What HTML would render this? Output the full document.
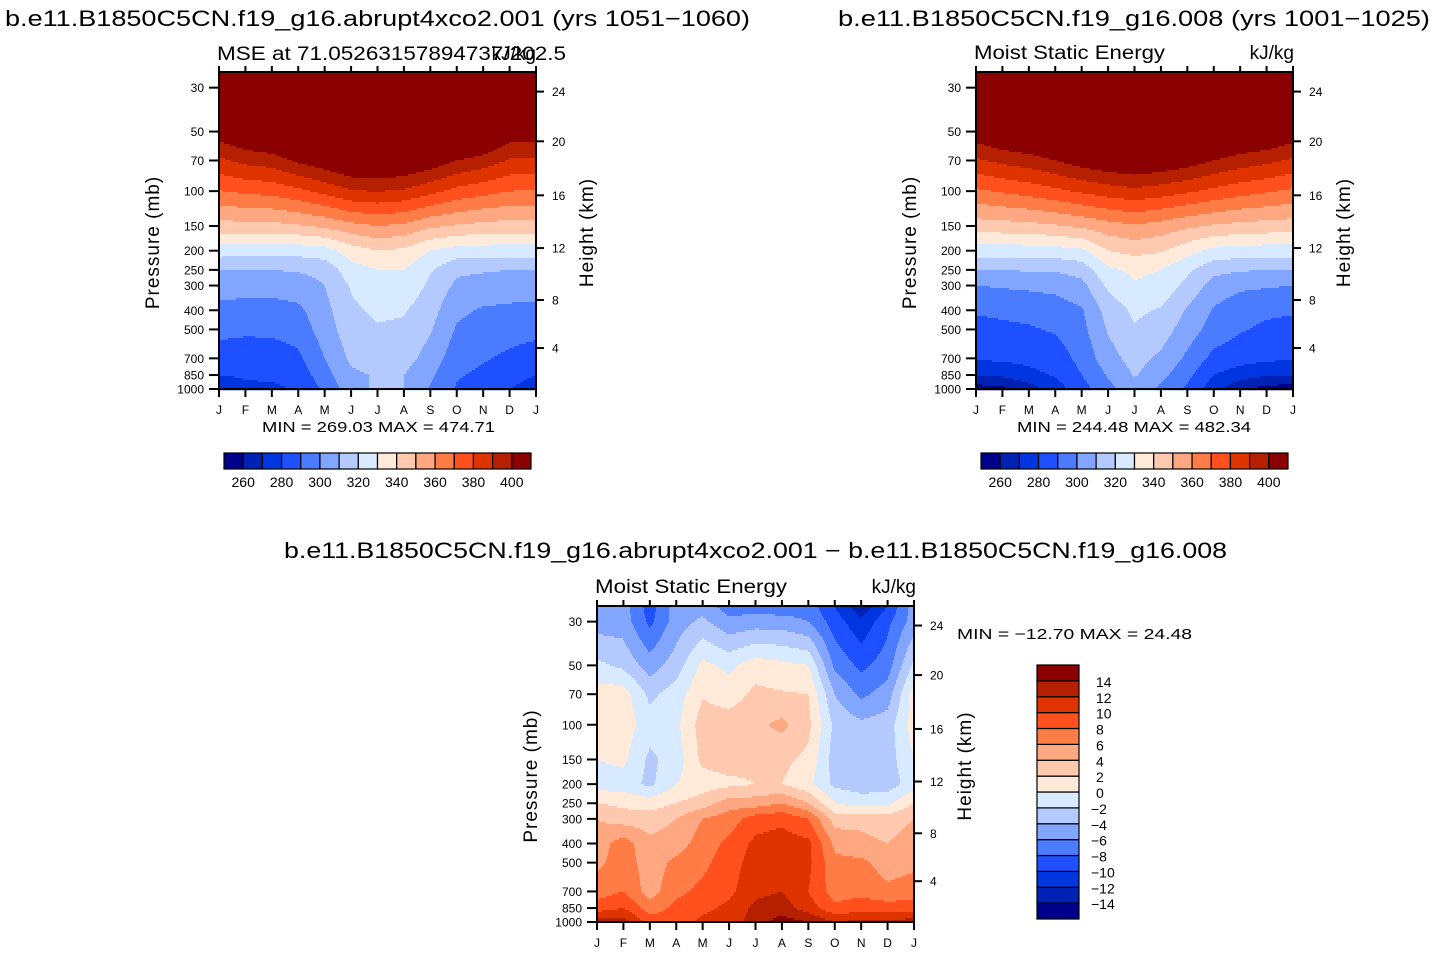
<!DOCTYPE html>
<html><head><meta charset="utf-8">
<style>
html,body{margin:0;padding:0;background:#fff;}
svg{display:block;font-family:"Liberation Sans",sans-serif;}
</style></head>
<body>
<svg id="fig" width="1434" height="955" viewBox="0 0 1434 955" xmlns="http://www.w3.org/2000/svg">
<rect width="1434" height="955" fill="#fff"/>
</svg>
<script>
// ---------- data ----------
const months = ["J","F","M","A","M","J","J","A","S","O","N","D","J"];
const pressureLevels = [1000,850,700,500,400,300,250,200,150,100,70,50,30,25];
const pressureTicks = [30,50,70,100,150,200,250,300,400,500,700,850,1000];
const heightTickLabels = [4,8,12,16,20,24];
const heightTickPressures = [621,355,194,105,56,31.4];
const absContourLevels = [260,270,280,290,300,310,320,330,340,350,360,370,380,390,400];
const absColorbarLabels = [260,280,300,320,340,360,380,400];
const diffContourLevels = [-14,-12,-10,-8,-6,-4,-2,0,2,4,6,8,10,12,14];
const palette = ["#00008c","#0022b4","#0036e0","#1e50ff","#4b7bff","#82a6ff","#b4caff","#d8eaff","#ffe9d9","#ffc9b0","#ffa781","#ff7c47","#ff501e","#e03400","#b42000","#8b0000"];

// abrupt4xco2 MSE (kJ/kg): rows = months J..J, cols = pressureLevels
const mseAbrupt = [
 [275,280,285,293,297,305,310,325,346,369.5,388,406,450,460],
 [278,281,284,292,296,304,310,324,347,372,393,412,452,462],
 [278,282,285,292,296,304,310,323,347,373.5,395,416,455,464],
 [281,284,288,294,298,305,311,324,349,377.5,402,424,460,468],
 [292,296,300,305,307,310,313,326,352,383,407,430,462,470],
 [306,308,312,316,318,321,326,335,357,389,413,436,466,473],
 [312,311,315,319,322,327,330,340,360,390.5,414.5,437,470,475],
 [310,310,314,318,321,327,330,338,358,388.5,412,434.5,468,474],
 [299,302,306,311,314,318,321,330,352,383,407,430,462,470],
 [289,291,294,299,302,308,312,326,349,377,400,421.5,458,467],
 [285,288,291,296,299,306,311,325,347,373.5,396,417,455,464],
 [280,284,288,294,298,305,310,325,346,370,389,407,450,460],
 [275,280,285,293,297,305,310,325,346,369.5,388,406,450,460]
];
// control MSE (kJ/kg)
const mseControl = [
 [255,271,281,287,291,300,310,325,345,368.3,388.4,407.4,450,460],
 [257,272,282,288,292,301,310,325,346,371.2,392.7,413,452,462],
 [265,277,283,289,293,302,311,325,347,374,395.5,415.8,455,464],
 [275,281,285,291,295,303,311,326,349,377.6,400,421,458,467],
 [286,290,293,297,299,307,314,328,352,381.6,405.5,428,462,470],
 [297,301,306,311,314,322,328,340,356,385,409,431.6,466,473],
 [306,311,314,319,322,329,332,343,359,387.5,411.4,434,470,475],
 [298,303,308,315,319,327,330,341,356,385,409,431.6,466,473],
 [288,293,298,305,309,317,322,334,352,381.6,405.5,428,462,470],
 [274,280,287,296,299,306,313,327,349,377.6,400,421,458,467],
 [262,275,284,291,294,302,311,326,347,374,395.5,415.8,455,464],
 [256,271,282,288,292,301,310,325,346,371.2,392.7,413,452,462],
 [255,271,281,287,291,300,310,325,345,368.3,388.4,407.4,450,460]
];
// difference (kJ/kg)
const mseDiff = [
 [13,9,7,5.5,5,4,2,-1,0,1,1,-1.5,-5,-5],
 [13,10,8,7,7,3,1.5,-1,0.5,1,1,-2.5,-5,-5],
 [9,7,5,5,4.5,3,1,-2.5,-2.5,-1,-2.5,-5,-8.5,-9],
 [9,8.5,7.5,6.5,5,4,2,0,-1,-0.5,-1,-3,-5,-5],
 [10.5,9.5,8.5,7.5,7,6,3,1,2.5,3,1.8,0.5,-3.5,-5],
 [11,10.5,9.5,9,8.5,7,5,1.5,3,3,1,-0.5,-5.5,-7],
 [13,12.5,11.5,11,10.5,9,5,2,2.5,3.5,2.5,1,-5,-7],
 [15,13,12,11,11,9.5,6,2,2.5,4.5,2.2,0.5,-5,-7.5],
 [14,11,10,10.5,10.5,8,4,0.5,1.5,2.5,2,0,-6,-7],
 [12,8.5,7,6.5,5.5,3,0,-2.5,-3,-2.5,-4,-6.5,-9,-10],
 [12.5,9,7.5,6.5,4.5,3.5,-1,-3,-3,-3.5,-6.5,-8.5,-11.5,-13.5],
 [12.5,9,6.5,5,4,3,-0.5,-3,-3,-3,-5,-7,-8.5,-10],
 [13,9,7,5.5,5,4,2,-1,0,1,1,-1.5,-5,-5]
];

// ---------- helpers ----------
const NS = "http://www.w3.org/2000/svg";
const svg = document.getElementById("fig");
function mk(tag, attrs, parent){
  const e = document.createElementNS(NS, tag);
  for (const k in attrs) e.setAttribute(k, attrs[k]);
  (parent||svg).appendChild(e);
  return e;
}
function txt(s, x, y, size, anchor, parent, name, extra){
  const t = mk("text", Object.assign({x:x, y:y, "font-size":size, "text-anchor":anchor||"start", fill:"#000"}, extra||{}), parent);
  t.textContent = s;
  
  
  return t;
}
function colorIndex(v, levels){
  let i = 0;
  while (i < levels.length && v >= levels[i]) i++;
  return i;
}
const PTOP = 25, PBOT = 1000;

function drawPanel(cfg){
  const g = mk("g", {});
  
  
  const x0 = cfg.x, y0 = cfg.y, w = cfg.w, h = cfg.h;
  const span = Math.log10(PBOT/PTOP);
  const yOf = p => y0 + h - h*Math.log10(PBOT/p)/span;
  const xOf = m => x0 + w*m/(months.length-1);
  const data = cfg.data;
  const lv = pressureLevels.map(p => Math.log10(p));
  function valueAt(mf, lp){
    let i = Math.floor(mf); if (i >= data.length-1) i = data.length-2; if (i<0) i=0;
    const fx = mf - i;
    let k = 0;
    while (k < lv.length-2 && lp < lv[k+1]) k++;
    let fy = (lv[k]-lp)/(lv[k]-lv[k+1]);
    fy = Math.max(0, Math.min(1, fy));
    const a = data[i][k]*(1-fy)+data[i][k+1]*fy;
    const b = data[i+1][k]*(1-fy)+data[i+1][k+1]*fy;
    return a*(1-fx)+b*fx;
  }
  const fillG = mk("g", {}, g);
  
  
  const step = 2;
  for (let py = y0; py < y0+h; py += step){
    const yc = py + step/2;
    const lp = Math.log10(PBOT) - (y0+h-yc)/h*span;
    let runStart = x0, runC = -1;
    for (let px = x0; px <= x0+w; px++){
      let c = -1;
      if (px < x0+w){
        const mf = (px+0.5-x0)/w*(months.length-1);
        c = colorIndex(valueAt(mf, lp), cfg.levels);
      }
      if (c !== runC){
        if (runC >= 0){
          const r = mk("rect", {x:runStart, y:py, width:px-runStart, height:step+0.3, fill:palette[runC]}, fillG);
          
          
        }
        runStart = px; runC = c;
      }
    }
  }
  const fr = mk("rect", {x:x0, y:y0, width:w, height:h, fill:"none", stroke:"#000", "stroke-width":2}, g);
  
  
  months.forEach((m, i) => {
    const x = xOf(i);
    mk("line", {x1:x, y1:y0+h, x2:x, y2:y0+h+8, stroke:"#000", "stroke-width":2}, g);
    mk("line", {x1:x, y1:y0, x2:x, y2:y0-6, stroke:"#000", "stroke-width":2}, g);
    txt(m, x, y0+h+25, 12, "middle", g, 'month-label');
  });
  pressureTicks.forEach(p => {
    const y = yOf(p);
    mk("line", {x1:x0-10, y1:y, x2:x0, y2:y, stroke:"#000", "stroke-width":2}, g);
    txt(String(p), x0-15, y+4.5, 12, "end", g, 'pressure-tick-label');
  });
  heightTickLabels.forEach((z, i) => {
    const y = yOf(heightTickPressures[i]);
    mk("line", {x1:x0+w, y1:y, x2:x0+w+8, y2:y, stroke:"#000", "stroke-width":2}, g);
    txt(String(z), x0+w+16, y+4.5, 12, "start", g, 'height-tick-label');
  });
  const cy = y0 + h/2 - 28;
  txt("Pressure (mb)", 0, 0, 19, "middle", g, 'y-axis-title', {transform:`translate(${x0-60},${cy+40}) rotate(-90)`, "letter-spacing":"1"});
  txt("Height (km)", 0, 0, 19, "middle", g, 'right-axis-title', {transform:`translate(${x0+w+57},${cy+30}) rotate(-90)`, "letter-spacing":"1"});
}

function hColorbar(x, y, w, h, name){
  const g = mk("g", {});
  
  
  const n = palette.length, bw = w/n;
  palette.forEach((c, i) => {
    const r = mk("rect", {x:x+i*bw, y:y, width:bw, height:h, fill:c, stroke:"#000", "stroke-width":1.2}, g);
    
    
  });
  absColorbarLabels.forEach(v => {
    const i = absContourLevels.indexOf(v) + 1;
    txt(String(v), x+i*bw, y+h+18, 14, "middle", g, 'colorbar-label');
  });
}
function vColorbar(x, y, w, h, name){
  const g = mk("g", {});
  
  
  const n = palette.length, bh = h/n;
  palette.forEach((c, i) => {
    const r = mk("rect", {x:x, y:y+(n-1-i)*bh, width:w, height:bh, fill:c, stroke:"#000", "stroke-width":1.2}, g);
    
    
  });
  diffContourLevels.forEach((v, i) => {
    const yy = y + (n-1-i)*bh;
    txt(v < 0 ? "\u2212"+Math.abs(v) : String(v), v<0 ? x+w+12 : x+w+17, yy+6, 14, "start", g, 'colorbar-label');
  });
}

drawPanel({name:"abrupt-panel", x:219, y:72, w:317, h:317, data:mseAbrupt, levels:absContourLevels});
drawPanel({name:"control-panel", x:976, y:72, w:317, h:317, data:mseControl, levels:absContourLevels});
drawPanel({name:"difference-panel", x:597, y:606, w:317, h:316, data:mseDiff, levels:diffContourLevels});

hColorbar(224, 453, 307, 16, "abrupt-colorbar");
hColorbar(981, 453, 307, 16, "control-colorbar");
vColorbar(1037, 665, 42, 254, "difference-colorbar");

txt("b.e11.B1850C5CN.f19_g16.abrupt4xco2.001 (yrs 1051\u22121060)", 5, 26, 22, "start", null, 'abrupt-title', {textLength:745, lengthAdjust:"spacingAndGlyphs"});
txt("b.e11.B1850C5CN.f19_g16.008 (yrs 1001\u22121025)", 838, 26, 22, "start", null, 'control-title', {textLength:592, lengthAdjust:"spacingAndGlyphs"});
txt("b.e11.B1850C5CN.f19_g16.abrupt4xco2.001 \u2212 b.e11.B1850C5CN.f19_g16.008", 284, 558, 22, "start", null, 'difference-title', {textLength:943, lengthAdjust:"spacingAndGlyphs"});

txt("MSE at 71.05263157894737/202.5", 217, 60, 19, "start", null, 'abrupt-subtitle', {textLength:349, lengthAdjust:"spacingAndGlyphs"});
txt("kJ/kg", 536, 60, 19, "end", null, 'abrupt-units');
txt("Moist Static Energy", 974, 59, 19, "start", null, 'control-subtitle', {textLength:191, lengthAdjust:"spacingAndGlyphs"});
txt("kJ/kg", 1294, 59, 19, "end", null, 'control-units');
txt("Moist Static Energy", 595, 593, 19, "start", null, 'difference-subtitle', {textLength:192, lengthAdjust:"spacingAndGlyphs"});
txt("kJ/kg", 916, 593, 19, "end", null, 'difference-units');

txt("MIN = 269.03 MAX = 474.71", 262, 432, 15, "start", null, 'abrupt-minmax', {textLength:233, lengthAdjust:"spacingAndGlyphs"});
txt("MIN = 244.48 MAX = 482.34", 1017, 432, 15, "start", null, 'control-minmax', {textLength:234, lengthAdjust:"spacingAndGlyphs"});
txt("MIN = \u221212.70 MAX =  24.48", 957, 639, 15, "start", null, 'difference-minmax', {textLength:235, lengthAdjust:"spacingAndGlyphs"});
</script>
</body></html>
